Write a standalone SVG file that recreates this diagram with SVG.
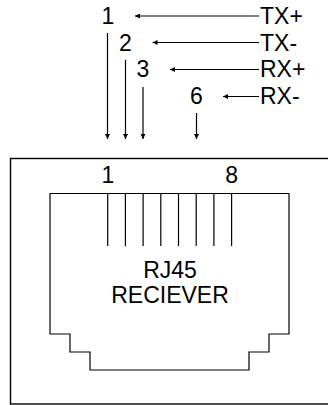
<svg xmlns="http://www.w3.org/2000/svg" width="328" height="405" viewBox="0 0 328 405">
<style>
text{font-family:"Liberation Sans",Arial,sans-serif;font-size:23px;fill:#000}
.ln{stroke:#000;stroke-width:1.2;fill:none}
.mid{text-anchor:middle}
</style>
<defs>
<marker id="ah" viewBox="0 0 10 10" refX="10" refY="5" markerWidth="5" markerHeight="5" markerUnits="userSpaceOnUse" orient="auto">
<path d="M0,0 L10,5 L0,10 z" fill="#000"/>
</marker>
</defs>
<rect width="328" height="405" fill="#fff"/>
<g id="labels">
<text class="mid" x="108" y="24">1</text>
<text class="mid" x="125.5" y="50.5">2</text>
<text class="mid" x="143" y="77">3</text>
<text class="mid" x="196.5" y="103.5">6</text>
<text x="260" y="24">TX+</text>
<text x="260" y="50.5">TX-</text>
<text x="260" y="77">RX+</text>
<text x="260" y="103.5">RX-</text>
</g>
<g id="connectors">
<line class="ln" x1="259" y1="16" x2="135" y2="16" marker-end="url(#ah)"/>
<line class="ln" x1="259" y1="42.5" x2="152.5" y2="42.5" marker-end="url(#ah)"/>
<line class="ln" x1="259" y1="69.5" x2="170" y2="69.5" marker-end="url(#ah)"/>
<line class="ln" x1="259" y1="96.5" x2="223" y2="96.5" marker-end="url(#ah)"/>
<line class="ln" x1="107.5" y1="33" x2="107.5" y2="139" marker-end="url(#ah)"/>
<line class="ln" x1="125.5" y1="60" x2="125.5" y2="139" marker-end="url(#ah)"/>
<line class="ln" x1="143" y1="87" x2="143" y2="139" marker-end="url(#ah)"/>
<line class="ln" x1="196.5" y1="113" x2="196.5" y2="139" marker-end="url(#ah)"/>
</g>
<g id="receiver">
<rect x="10.5" y="158.5" width="330" height="245.5" fill="none" stroke="#000" stroke-width="1.4"/>
<path class="ln" stroke-width="1.3" d="M50,193.5 H289 V334 H269 V352 H249 V370 H90 V352 H70 V334 H50 Z"/>
<g class="ln">
<line x1="107.7" y1="193.5" x2="107.7" y2="246"/>
<line x1="125.4" y1="193.5" x2="125.4" y2="246"/>
<line x1="143.1" y1="193.5" x2="143.1" y2="246"/>
<line x1="160.8" y1="193.5" x2="160.8" y2="246"/>
<line x1="178.5" y1="193.5" x2="178.5" y2="246"/>
<line x1="196.2" y1="193.5" x2="196.2" y2="246"/>
<line x1="213.9" y1="193.5" x2="213.9" y2="246"/>
<line x1="231.6" y1="193.5" x2="231.6" y2="246"/>
</g>
<text class="mid" x="108" y="183">1</text>
<text class="mid" x="231.6" y="183">8</text>
<text class="mid" x="170" y="278">RJ45</text>
<text class="mid" x="170" y="303">RECIEVER</text>
</g>
</svg>
